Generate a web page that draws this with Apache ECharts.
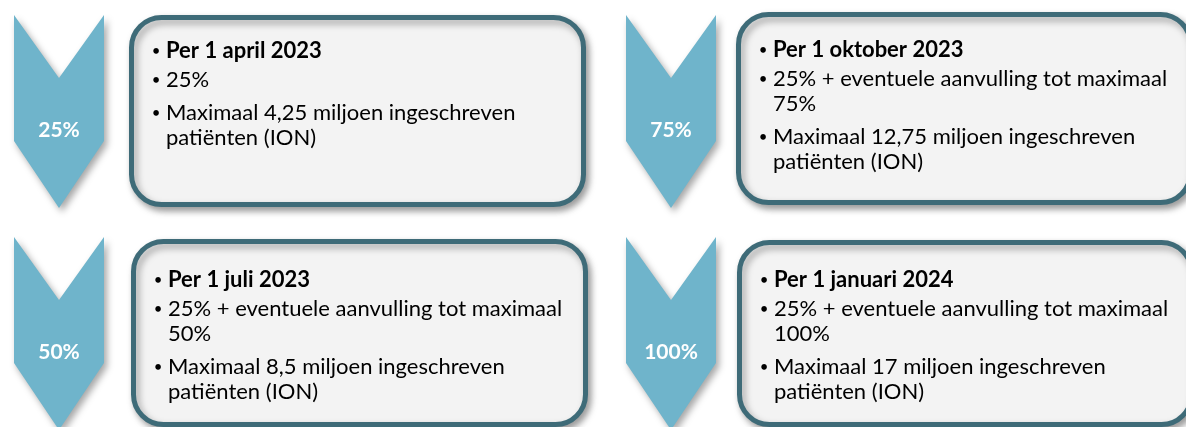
<!DOCTYPE html>
<html>
<head>
<meta charset="utf-8">
<script src="https://cdn.jsdelivr.net/npm/echarts@6/dist/echarts.min.js"></script>
<style>
html,body{margin:0;padding:0;background:#fff;}
#chart{width:1186px;height:427px;}
</style>
</head>
<body>
<div id="chart"></div>
<script>
// ---- data ----
const pctLabels = ['25%', '50%', '75%', '100%'];
const dates = ['Per 1 april 2023', 'Per 1 juli 2023', 'Per 1 oktober 2023', 'Per 1 januari 2024'];
const shareLines = [
  ['25%'],
  ['25% + eventuele aanvulling tot maximaal', '50%'],
  ['25% + eventuele aanvulling tot maximaal', '75%'],
  ['25% + eventuele aanvulling tot maximaal', '100%']
];
const patientLines = [
  ['Maximaal 4,25 miljoen ingeschreven', 'patiënten (ION)'],
  ['Maximaal 8,5 miljoen ingeschreven', 'patiënten (ION)'],
  ['Maximaal 12,75 miljoen ingeschreven', 'patiënten (ION)'],
  ['Maximaal 17 miljoen ingeschreven', 'patiënten (ION)']
];

// ---- layout ----
const FONT = 'Lato, "Open Sans", sans-serif';
const panels = [
  {chevX: 14, chevY: 15, boxX: 129, boxY: 15, boxH: 192, textY: 51},
  {chevX: 14, chevY: 237, boxX: 131, boxY: 239, boxH: 188, textY: 280},
  {chevX: 626, chevY: 15, boxX: 736, boxY: 12, boxH: 193, textY: 50},
  {chevX: 626, chevY: 237, boxX: 737, boxY: 240, boxH: 187, textY: 280}
];
const chevW = 90, notch = 63, side = 126, tip = 193;
const boxW = 457;

const graphics = [];
panels.forEach((p, i) => {
  const cx = p.chevX + chevW / 2;
  graphics.push({
    type: 'polygon',
    shape: {points: [
      [p.chevX, p.chevY], [cx, p.chevY + notch], [p.chevX + chevW, p.chevY],
      [p.chevX + chevW, p.chevY + side], [cx, p.chevY + tip], [p.chevX, p.chevY + side]
    ]},
    style: {fill: '#6fb4cb', shadowBlur: 7, shadowOffsetX: 3, shadowOffsetY: 4, shadowColor: 'rgba(0,0,0,0.35)'}
  });
  graphics.push({
    type: 'text', x: cx, y: p.chevY + 115,
    style: {text: pctLabels[i], fill: '#ffffff', font: 'bold 21px ' + FONT, align: 'center', verticalAlign: 'middle'}
  });
  graphics.push({
    type: 'rect',
    shape: {x: p.boxX + 2.5, y: p.boxY + 2.5, width: boxW - 5, height: p.boxH - 5, r: 30},
    style: {fill: '#f3f3f3', stroke: '#3e6b78', lineWidth: 5, shadowBlur: 7, shadowOffsetX: 3, shadowOffsetY: 4, shadowColor: 'rgba(0,0,0,0.35)'}
  });
  const bx = p.boxX + 27, tx = p.boxX + 37;
  let y = p.textY;
  const addBullet = (yy) => graphics.push({
    type: 'text', x: bx, y: yy,
    style: {text: '•', fill: '#000', font: '15px ' + FONT, align: 'center', verticalAlign: 'middle'}
  });
  const addLine = (txt, yy, bold) => graphics.push({
    type: 'text', x: tx, y: yy,
    style: {text: txt, fill: '#000', font: (bold ? 'bold ' : '') + '22px ' + FONT, align: 'left', verticalAlign: 'middle'}
  });
  addBullet(y); addLine(dates[i], y, true);
  y += 29;
  shareLines[i].forEach((l, k) => { if (k === 0) addBullet(y); addLine(l, y, false); y += 25; });
  y += 8;
  patientLines[i].forEach((l, k) => { if (k === 0) addBullet(y); addLine(l, y, false); y += 25; });
});

const chart = echarts.init(document.getElementById('chart'), null, {renderer: 'canvas'});
chart.setOption({backgroundColor: '#ffffff', graphic: graphics});
</script>
</body>
</html>
